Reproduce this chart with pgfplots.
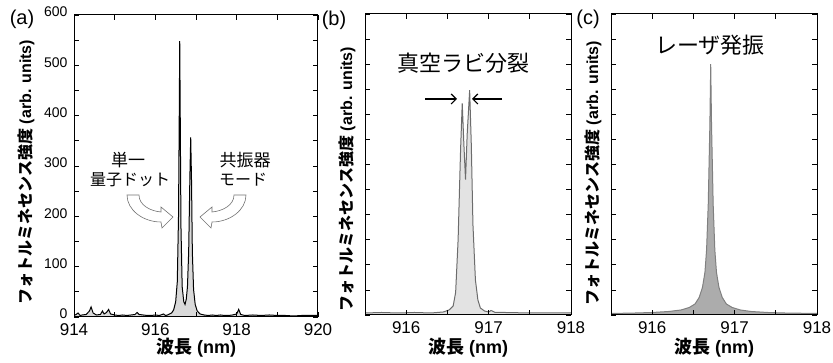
\documentclass[border=0pt]{standalone}
\usepackage{pgfplots}
\usepackage{pgfplotstable}
\pgfplotsset{compat=1.18}
\usepackage{fontspec}
\setmainfont{Liberation Sans}
\newfontfamily\cjk{Noto Sans CJK JP}
\usetikzlibrary{arrows.meta}

\pgfplotstableread{
x y
914.00 3
914.05 5
914.10 8
914.15 3
914.20 4
914.30 5
914.38 12
914.42 20
914.47 8
914.55 4
914.65 5
914.70 12
914.74 6
914.80 9
914.85 15
914.90 6
915.00 4
915.10 3
915.20 4
915.30 3
915.40 4
915.50 5
915.55 9
915.60 5
915.70 4
915.80 3
915.90 3
916.00 4
916.10 3
916.20 6
916.25 3
916.30 4
916.40 8
916.45 14
916.50 30
916.54 70
916.57 200
916.59 420
916.60 548
916.61 430
916.63 180
916.66 60
916.70 30
916.73 25
916.76 35
916.79 60
916.82 130
916.85 280
916.87 357
916.89 270
916.91 130
916.94 55
916.98 25
917.03 12
917.10 6
917.20 4
917.30 3
917.40 4
917.50 3
917.60 4
917.70 3
917.80 3
917.90 4
918.00 6
918.05 15
918.10 5
918.20 3
918.40 4
918.60 3
918.80 4
919.00 3
919.20 3
919.40 2
919.60 3
919.80 3
920.00 3
}\dataA

\pgfplotstableread{
x y
915.50 4
915.70 5
915.90 4
916.10 5
916.30 4
916.45 6
916.52 10
916.57 18
916.60 45
916.63 150
916.66 330
916.68 422
916.70 340
916.72 270
916.74 360
916.77 448
916.79 340
916.81 180
916.84 70
916.87 30
916.90 14
916.95 8
917.00 6
917.03 9
917.08 5
917.20 5
917.50 4
917.80 4
918.00 4
}\dataB

\pgfplotstableread{
x y
915.50 3
915.80 4
916.00 5
916.20 7
916.35 10
916.45 15
916.52 22
916.57 35
916.61 55
916.64 85
916.66 130
916.68 220
916.70 380
916.71 500
916.72 380
916.74 220
916.76 130
916.78 85
916.81 55
916.85 35
916.90 22
916.97 15
917.07 10
917.20 7
917.40 5
917.60 4
918.00 3
}\dataC

\pgfplotsset{
  pl/.style={
    scale only axis, anchor=south west,
    ymin=0, ymax=600,
    axis line style={line width=1pt},
    every tick/.style={black, line width=0.8pt},
    major tick length=5pt, minor tick length=5pt,
    tick align=inside, axis on top,
    ytick={0,100,...,600}, minor ytick={50,150,...,550},
    xticklabel style={font=\fontsize{17}{17}\selectfont, yshift=-3pt},
    yticklabel style={font=\fontsize{14}{14}\selectfont, xshift=-3pt, yshift=3pt},
    /pgf/number format/assume math mode=true,
    /pgf/number format/1000 sep={},
  }
}

\begin{document}
\begin{tikzpicture}[x=1pt,y=1pt]
\useasboundingbox (0,0) rectangle (833,363);

% Panel (a)
\begin{axis}[pl, at={(74pt,46pt)}, width=244pt, height=302pt,
  xmin=914, xmax=920, xtick={914,916,918,920}, minor xtick={915,917,919}]
\addplot[draw=none, fill=gray!30] table[x=x,y=y]{\dataA} \closedcycle;
\addplot[black, line width=1pt] table[x=x,y=y]{\dataA};
\end{axis}

% Panel (b)
\begin{axis}[pl, at={(365pt,48pt)}, width=206pt, height=301pt,
  xmin=915.5, xmax=918, xtick={916,917,918}, minor xtick={915.5,916.5,917.5},
  yticklabels={}]
\addplot[draw=none, fill=gray!22] table[x=x,y=y]{\dataB} \closedcycle;
\addplot[gray!85!black, line width=1pt] table[x=x,y=y]{\dataB};
\end{axis}

% Panel (c)
\begin{axis}[pl, at={(611pt,48pt)}, width=206pt, height=301pt,
  xmin=915.5, xmax=918, xtick={916,917,918}, minor xtick={915.5,916.5,917.5},
  yticklabels={}]
\addplot[draw=none, fill=gray!65] table[x=x,y=y]{\dataC} \closedcycle;
\addplot[gray, line width=1pt] table[x=x,y=y]{\dataC};
\end{axis}

% panel letters
\node[font=\fontsize{20}{20}\selectfont] at (22,344) {(a)};
\node[font=\fontsize{20}{20}\selectfont] at (334,343) {(b)};
\node[font=\fontsize{20}{20}\selectfont] at (588,344) {(c)};

% y labels
\foreach \xx/\yy in {26/191, 347/184, 593/190}{
  \node[rotate=90, inner sep=0pt, font=\fontsize{16}{16}\selectfont] at (\xx,\yy)
    {{\cjk\bfseries フォトルミネセンス強度} \textbf{(arb. units)}};
}
% x labels
\foreach \xx in {196, 468, 714}{
  \node[inner sep=0pt, font=\fontsize{18}{18}\selectfont] at (\xx,15)
    {{\cjk\bfseries 波長} \textbf{(nm)}};
}

% annotations (a)
\node[font=\cjk\fontsize{17}{17}\selectfont] at (128,203) {単一};
\node[font=\cjk\fontsize{16}{16}\selectfont] at (130,183) {量子ドット};
\node[font=\cjk\fontsize{17}{17}\selectfont] at (245,203) {共振器};
\node[font=\cjk\fontsize{16}{16}\selectfont] at (243,183) {モード};
\draw[gray!90!black, line width=0.6pt, fill=white]
  (139,168) .. controls (139,158) and (150,152) .. (161,151) -- (161,156) -- (173,146)
  -- (162,135) -- (161,141) .. controls (143,141) and (127,153) .. (127,168) -- cycle;
\draw[gray!90!black, line width=0.6pt, fill=white]
  (234,168) .. controls (234,158) and (223,152) .. (212,151) -- (212,156) -- (200,146)
  -- (211,135) -- (212,141) .. controls (230,141) and (246,153) .. (246,168) -- cycle;

% annotations (b)
\node[font=\cjk\fontsize{22}{22}\selectfont] at (463,300) {真空ラビ分裂};
\draw[black, line width=1.2pt, -{Straight Barb[length=5pt,width=10pt]}] (425,264) -- (457,264);
\draw[black, line width=1.2pt, -{Straight Barb[length=5pt,width=10pt]}] (502,264) -- (472,264);

% annotations (c)
\node[font=\cjk\fontsize{22}{22}\selectfont] at (710,318) {レーザ発振};
\end{tikzpicture}
\end{document}
